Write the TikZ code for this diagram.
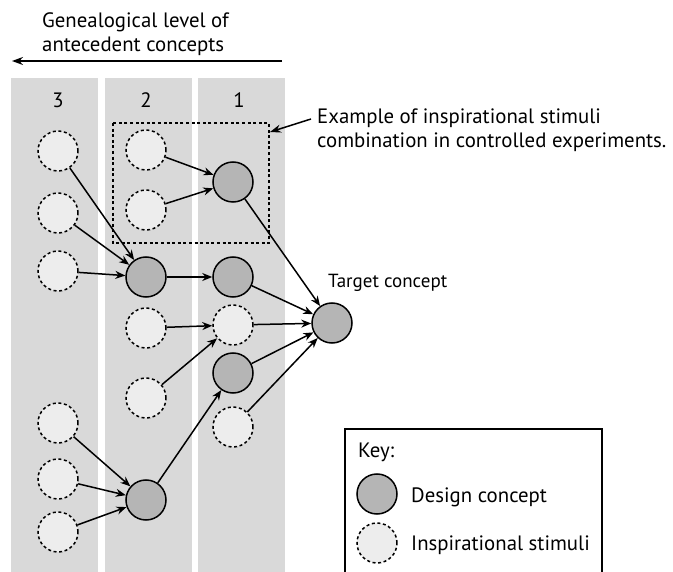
\documentclass[tikz,border=0pt]{standalone}
\usepackage{fontspec}
\setmainfont{PT Sans}
\usetikzlibrary{arrows.meta}
\definecolor{lanebg}{gray}{0.85}
\definecolor{stimfill}{gray}{0.93}
\definecolor{concfill}{gray}{0.71}
\begin{document}
\begin{tikzpicture}[x=1pt,y=-1pt,
  lane/.style={fill=lanebg,draw=none},
  concept/.style={circle,draw=black,line width=1.5pt,fill=concfill,minimum size=40pt,inner sep=0pt},
  stimulus/.style={circle,draw=black,line width=1.5pt,dash pattern=on 3pt off 2.6pt,fill=stimfill,minimum size=40pt,inner sep=0pt},
  link/.style={line width=1.5pt,-{Stealth[length=10pt,width=8pt]}},
  bigtext/.style={font=\fontsize{20.8}{24.5}\selectfont,inner sep=0pt},
  smalltext/.style={font=\fontsize{19}{22}\selectfont,inner sep=0pt}
]
\useasboundingbox (0,0) rectangle (673,572);

% generation lanes
\fill[lane] (11,78) rectangle (98,572);
\fill[lane] (105,78) rectangle (192,572);
\fill[lane] (198,78) rectangle (285,572);
\node[bigtext,anchor=base] (n3) at (58,108) {3};
\node[bigtext,anchor=base] (n2) at (146,108) {2};
\node[bigtext,anchor=base] (n1) at (239,108) {1};

% heading with direction arrow
\node[bigtext,anchor=base west,align=left] (head) at (42,52) {Genealogical level of\\antecedent concepts};
\coordinate (hr) at (282,61);
\coordinate (hl) at (12,61);
\draw[line width=1.5pt,-{Stealth[length=11pt,width=8pt]}] (hr) -- (hl);

% example box
\draw[line width=1.5pt,dash pattern=on 3pt off 2.6pt] (113,123) rectangle (269,243);
\coordinate (boxtip) at (270,132);
\node[bigtext,anchor=base west,align=left] (example) at (317,148) {Example of inspirational stimuli\\combination in controlled experiments.};
\coordinate (extail) at (311,119);
\draw[line width=1.5pt,-{Stealth[length=11pt,width=8pt]}] (extail) -- (boxtip);

% level 3
\node[stimulus] (a1) at (58,151) {};
\node[stimulus] (a2) at (58,213) {};
\node[stimulus] (a3) at (58,271) {};
\node[stimulus] (a4) at (58,423) {};
\node[stimulus] (a5) at (58,479) {};
\node[stimulus] (a6) at (58,532) {};

% level 2
\node[stimulus] (b1) at (146,150) {};
\node[stimulus] (b2) at (146,210) {};
\node[concept]  (b3) at (146,277) {};
\node[stimulus] (b4) at (146,328) {};
\node[stimulus] (b5) at (146,398) {};
\node[concept]  (b6) at (146,500) {};

% level 1
\node[concept]  (c1) at (233,182) {};
\node[concept]  (c2) at (233,277) {};
\node[stimulus] (c3) at (233,325) {};
\node[concept]  (c4) at (233,373) {};
\node[stimulus] (c5) at (233,427) {};

% target
\node[concept] (t) at (332,323) {};
\node[smalltext,anchor=base west] (tlabel) at (328,288) {Target concept};

% links
\draw[link] (b1) -- (c1);
\draw[link] (b2) -- (c1);
\draw[link] (c1) -- (t);
\draw[link] (a1) -- (b3);
\draw[link] (a2) -- (b3);
\draw[link] (a3) -- (b3);
\draw[link] (b3) -- (c2);
\draw[link] (c2) -- (t);
\draw[link] (b4) -- (c3);
\draw[link] (b5) -- (c3);
\draw[link] (c3) -- (t);
\draw[link] (c4) -- (t);
\draw[link] (c5) -- (t);
\draw[link] (a4) -- (b6);
\draw[link] (a5) -- (b6);
\draw[link] (a6) -- (b6);
\draw[link] (b6) -- (c4);

% key
\draw[line width=1.5pt] (345,580) -- (345,429) -- (602,429) -- (602,580);
\node[bigtext,anchor=base west] (keyt) at (358,457) {Key:};
\node[concept]  (kc) at (377,494) {};
\node[bigtext,anchor=base west] (kct) at (411,503) {Design concept};
\node[stimulus] (ks) at (377,543) {};
\node[bigtext,anchor=base west] (kst) at (411,550) {Inspirational stimuli};
\end{tikzpicture}
\end{document}
